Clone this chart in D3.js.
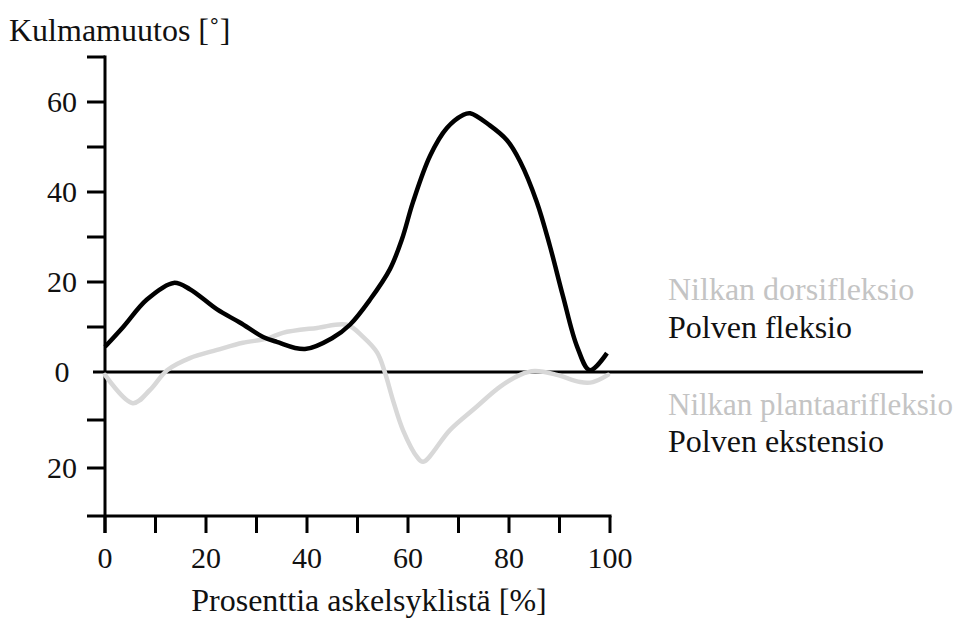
<!DOCTYPE html>
<html>
<head>
<meta charset="utf-8">
<script src="https://cdn.jsdelivr.net/npm/d3@7"></script>
<style>
  html, body { margin: 0; padding: 0; background: #fff; }
  svg { display: block; }
</style>
</head>
<body>
<svg id="chart" width="959" height="621" font-family="'Liberation Serif', 'DejaVu Serif', serif"></svg>
<script>
// Gait cycle (%) and joint angle change (degrees)
const kneeX = [0, 3.6, 8.3, 13.6, 16.8, 22.2, 26.7, 31.3, 34, 39.6, 45.1, 48.5, 52.5, 56.4, 58.8, 61, 64.4, 67.7, 70.9, 72.3, 76.2, 79.6, 82.2, 85.5, 88.1, 90.7, 93.5, 96, 99.4];
const kneeY = [5.6, 10, 16.1, 19.8, 18.4, 13.9, 11, 7.8, 6.7, 5.1, 7.6, 10.5, 16.1, 22.8, 29.5, 37.8, 48.1, 54.2, 57.1, 57.5, 54.8, 51.5, 46.8, 37.8, 28, 16.8, 5.6, 0.4, 4.2];

const ankleX = [0, 5.5, 8.9, 12.3, 16.8, 22.2, 27.3, 32.1, 35.2, 42, 47.9, 51.1, 53.9, 55.4, 57, 59, 61.8, 63, 68.3, 73.3, 78.2, 82.2, 85.1, 89.5, 94.1, 96.6, 99.6];
const ankleY = [-0.6, -6.5, -3.75, 0.4, 3.1, 4.9, 6.5, 7.4, 8.7, 9.8, 10.5, 7.8, 4.3, 0, -5.8, -12.1, -17.7, -18.7, -12.1, -7.5, -3.1, -0.6, 0.2, -0.6, -2.1, -2.1, -0.6];

const xTicks = [0, 10, 20, 30, 40, 50, 60, 70, 80, 90, 100];
const xLabels = [0, 20, 40, 60, 80, 100];
const yTicks = [70, 60, 50, 40, 30, 20, 10, -10, -20];
const yLabels = [60, 40, 20, 0, -20];

const yTitle = "Kulmamuutos [˚]";
const xTitle = "Prosenttia askelsyklistä [%]";
const legendUpper = ["Nilkan dorsifleksio", "Polven fleksio"];
const legendLower = ["Nilkan plantaarifleksio", "Polven ekstensio"];

const GREY = "#d8d8d8";
const GREY_TEXT = "#c4c4c4";
const INK = "#111";

const svg = d3.select("#chart");

const x = d3.scaleLinear().domain([0, 100]).range([105, 610]);
const y = d3.scaleLinear().domain([-30, 0, 70]).range([516, 372, 57]);

// axis lines
const axes = svg.append("g").attr("stroke", "#000").attr("stroke-width", 3).attr("fill", "none");
axes.append("line").attr("x1", x(0)).attr("x2", x(0)).attr("y1", y(70) - 1.5).attr("y2", y(-30) + 17);
axes.append("line").attr("x1", x(0) - 18).attr("x2", x(100) + 1.5).attr("y1", y(-30)).attr("y2", y(-30));
axes.append("line").attr("x1", x(0) - 12).attr("x2", 923).attr("y1", y(0)).attr("y2", y(0));

// y ticks
axes.selectAll("line.yt").data(yTicks).join("line")
  .attr("class", "yt")
  .attr("x1", x(0) - 18).attr("x2", x(0))
  .attr("y1", d => y(d)).attr("y2", d => y(d));

// x ticks
axes.selectAll("line.xt").data(xTicks).join("line")
  .attr("class", "xt")
  .attr("x1", d => x(d)).attr("x2", d => x(d))
  .attr("y1", y(-30)).attr("y2", y(-30) + 17);

// tick labels
svg.append("g").selectAll("text").data(yLabels).join("text")
  .attr("x", 62).attr("y", d => y(d) + 10)
  .attr("text-anchor", "middle")
  .attr("font-size", 30).attr("fill", INK)
  .text(d => Math.abs(d));

svg.append("g").selectAll("text").data(xLabels).join("text")
  .attr("x", d => x(d)).attr("y", 568)
  .attr("text-anchor", "middle")
  .attr("font-size", 30).attr("fill", INK)
  .text(d => d);

// titles
svg.append("text").attr("x", 9).attr("y", 41).attr("font-size", 32).attr("fill", INK).text(yTitle);
svg.append("text").attr("x", 369).attr("y", 611).attr("text-anchor", "middle").attr("font-size", 32).attr("fill", INK).text(xTitle);

// curves
const line = d3.line().x(d => x(d[0])).y(d => y(d[1])).curve(d3.curveCatmullRom.alpha(0.5));

svg.append("path")
  .datum(d3.zip(ankleX, ankleY))
  .attr("d", line).attr("fill", "none")
  .attr("stroke", GREY).attr("stroke-width", 4.5)
  .attr("stroke-linecap", "round").attr("stroke-linejoin", "round");

svg.append("path")
  .datum(d3.zip(kneeX, kneeY))
  .attr("d", line).attr("fill", "none")
  .attr("stroke", "#000").attr("stroke-width", 4.5)
  .attr("stroke-linecap", "butt").attr("stroke-linejoin", "round");

// direction labels
const lab = svg.append("g").attr("font-size", 32);
lab.append("text").attr("x", 668).attr("y", 300).attr("fill", GREY_TEXT).text(legendUpper[0]);
lab.append("text").attr("x", 668).attr("y", 338).attr("fill", INK).text(legendUpper[1]);
lab.append("text").attr("x", 668).attr("y", 415).attr("fill", GREY_TEXT).attr("font-size", 31).text(legendLower[0]);
lab.append("text").attr("x", 668).attr("y", 452).attr("fill", INK).text(legendLower[1]);
</script>
</body>
</html>
